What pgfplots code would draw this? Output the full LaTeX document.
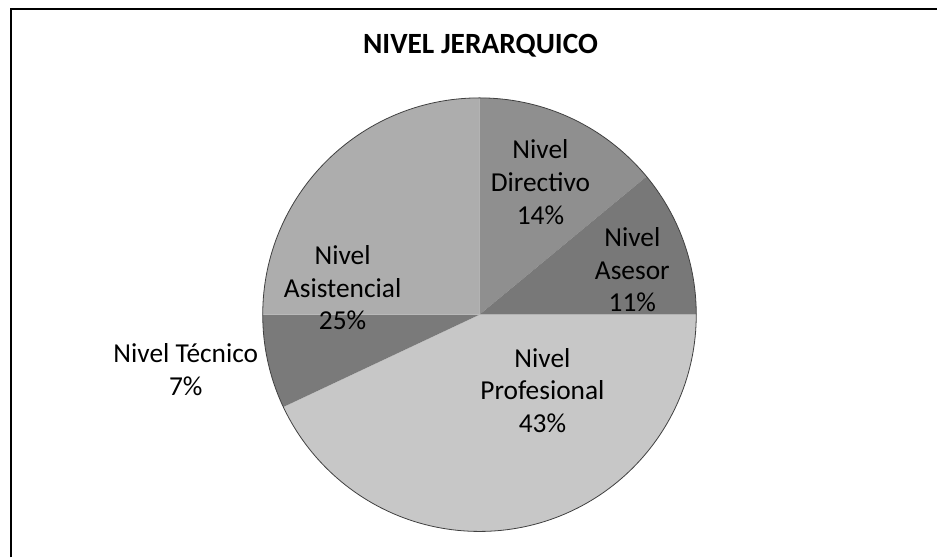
\documentclass[border=0pt]{standalone}
\usepackage{fontspec}
\setmainfont{Carlito}
\usepackage{pgfplots}
\usepackage{pgfplotstable}
\pgfplotsset{compat=1.18}

\definecolor{cDir}{gray}{0.56}
\definecolor{cAse}{gray}{0.47}
\definecolor{cPro}{gray}{0.78}
\definecolor{cTec}{gray}{0.48}
\definecolor{cAsi}{gray}{0.68}

\pgfplotstableread[col sep=comma]{
label,value
Directivo,14
Asesor,11
Profesional,43
Tecnico,7
Asistencial,25
}\pietable

\pgfplotstablegetelem{0}{value}\of\pietable \let\vA\pgfplotsretval
\pgfplotstablegetelem{1}{value}\of\pietable \let\vB\pgfplotsretval
\pgfplotstablegetelem{2}{value}\of\pietable \let\vC\pgfplotsretval
\pgfplotstablegetelem{3}{value}\of\pietable \let\vD\pgfplotsretval
\pgfplotstablegetelem{4}{value}\of\pietable \let\vE\pgfplotsretval
\pgfmathsetmacro\aZ{90}
\pgfmathsetmacro\aA{\aZ-3.6*\vA}
\pgfmathsetmacro\aB{\aA-3.6*\vB}
\pgfmathsetmacro\aC{\aB-3.6*\vC}
\pgfmathsetmacro\aD{\aC-3.6*\vD}
\pgfmathsetmacro\aE{\aD-3.6*\vE}

\begin{document}
\begin{tikzpicture}
\begin{axis}[
  scale only axis, width=938bp, height=558bp,
  xmin=0, xmax=938, ymin=0, ymax=558,
  enlargelimits=false, hide axis, clip=false,
]
\path (axis cs:0,0) rectangle (axis cs:938,558);
\draw[line width=2bp] (axis cs:11,0) -- (axis cs:11,549) -- (axis cs:938,549);
\node[font=\fontsize{29.5}{32}\selectfont\bfseries] at (axis cs:481,512) {NIVEL JERARQUICO};

\fill[cDir] (axis cs:480,243) -- ++(\aZ:217bp) arc[start angle=\aZ, end angle=\aA, radius=217bp] -- cycle;
\fill[cAse] (axis cs:480,243) -- ++(\aA:217bp) arc[start angle=\aA, end angle=\aB, radius=217bp] -- cycle;
\fill[cPro] (axis cs:480,243) -- ++(\aB:217bp) arc[start angle=\aB, end angle=\aC, radius=217bp] -- cycle;
\fill[cTec] (axis cs:480,243) -- ++(\aC:217bp) arc[start angle=\aC, end angle=\aD, radius=217bp] -- cycle;
\fill[cAsi] (axis cs:480,243) -- ++(\aD:217bp) arc[start angle=\aD, end angle=\aE, radius=217bp] -- cycle;
\draw[black!75, line width=0.8bp] (axis cs:480,243) ++(0:217bp) arc[start angle=0, end angle=360, radius=217bp];

\begin{scope}[every node/.style={align=center, font=\fontsize{27.5}{33}\selectfont}]
\node at (axis cs:541,376) {Nivel\\Directivo\\14\%};
\node at (axis cs:633,288) {Nivel\\Asesor\\11\%};
\node at (axis cs:543,167) {Nivel\\Profesional\\43\%};
\node at (axis cs:186,188) {Nivel Técnico\\7\%};
\node at (axis cs:343,270) {Nivel\\Asistencial\\25\%};
\end{scope}
\end{axis}
\end{tikzpicture}
\end{document}
